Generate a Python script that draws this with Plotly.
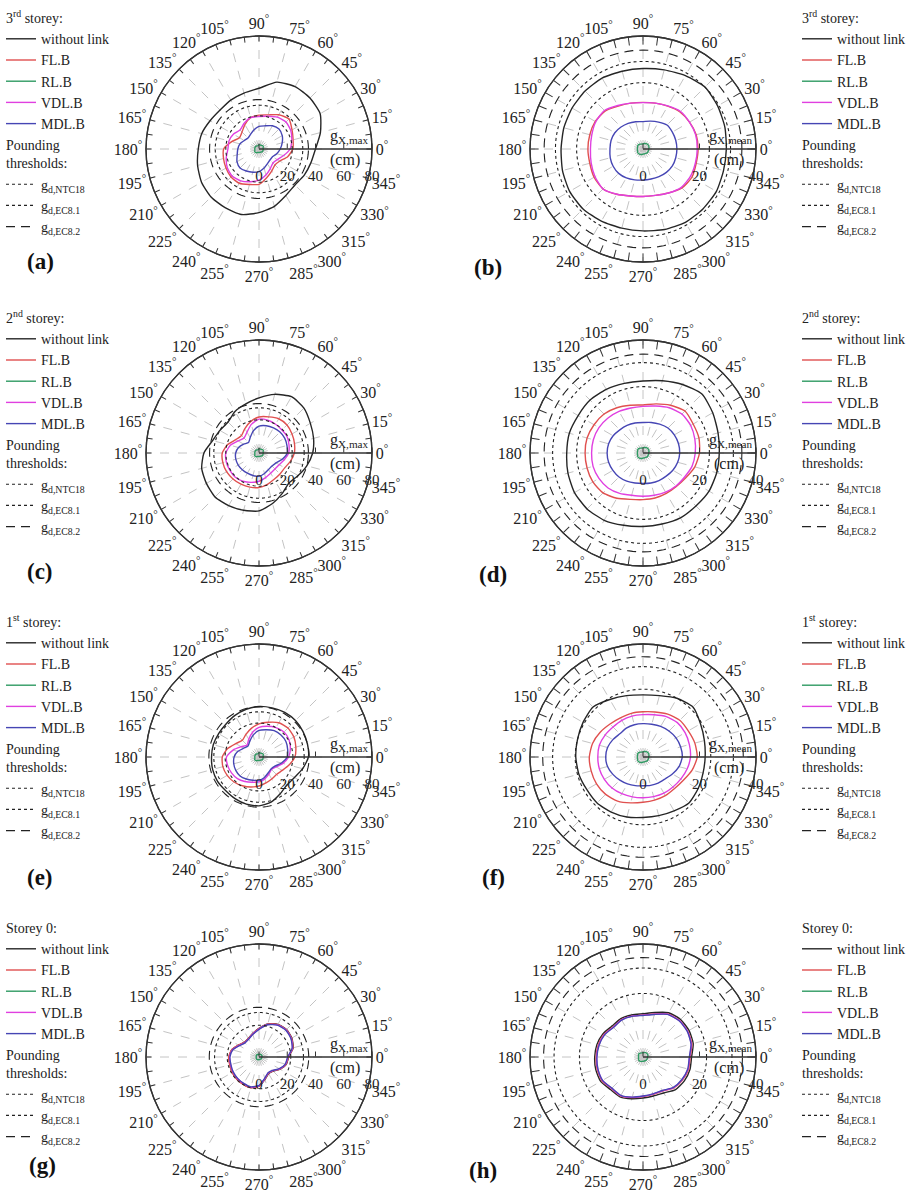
import plotly.graph_objects as go

W, H = 918, 1201

# ---------------- data ----------------
ANGLES = list(range(0, 360, 15))
ANGLE_LABELS = [f"{a}<sup>°</sup>" for a in ANGLES]
SERIES = ["without link", "FL.B", "RL.B", "VDL.B", "MDL.B"]
THRESH_NAMES = ["g<sub>d,NTC18</sub>", "g<sub>d,EC8.1</sub>", "g<sub>d,EC8.2</sub>"]
STOREY_TITLES = ["3<sup>rd</sup> storey:", "2<sup>nd</sup> storey:", "1<sup>st</sup> storey:", "Storey 0:"]
PANEL_LABELS = ["(a)", "(b)", "(c)", "(d)", "(e)", "(f)", "(g)", "(h)"]
RADIAL_TITLES = ["g<sub>X,max</sub>", "g<sub>X,mean</sub>"]
RMAX = [80, 40]
RTICKS = [[0, 20, 40, 60, 80], [0, 20, 40]]

# thresholds per storey (3rd, 2nd, 1st, 0)
NTC18 = [31, 32, 32, 31.5]
EC81 = [23.5, 23.5, 24, 22.5]
EC82 = [35, 35, 35.5, 35.2]

# (a) 3rd storey, max
A_WITHOUT = [40, 45, 50, 51, 51, 49, 43, 41, 40, 39, 40, 42, 43, 45, 47, 48, 48, 48, 45, 42, 38, 36, 37, 38]
A_FL = [24, 25, 27, 30, 28, 25, 24, 23, 20, 17, 16, 20, 25, 26, 27, 28, 28, 26, 25, 21, 18, 16, 17, 21]
A_RL = [3, 3, 3.5, 3.5, 3, 3, 3, 2.5, 2.5, 3, 3, 3, 3, 3, 3.5, 3.5, 3, 2.5, 2.5, 2.5, 2.5, 3, 3, 3]
A_VDL = [22, 24, 26, 27, 26, 24, 23, 23, 21, 19, 21, 22, 22, 24, 26, 27, 26, 24, 22, 19, 16, 14, 15, 18]
A_MDL = [15, 17, 19, 20, 19, 17, 16, 14, 12, 11, 12, 14, 15, 16, 18, 19, 18, 17, 16, 14, 12, 11, 11, 13]
# (b) 3rd storey, mean
B_WITHOUT = [29.5, 30, 30.5, 31, 30, 29, 28.5, 28.5, 29, 29, 29, 29, 29, 29.5, 30, 30, 29.5, 29, 29, 29.5, 30, 30, 30, 29.5]
B_FL = [19.5, 19.5, 19, 18.5, 17.5, 16.8, 16.5, 16.8, 17.5, 19, 19.5, 19.5, 19.5, 19.5, 20, 20, 18.5, 17.2, 16.8, 17, 18, 19.5, 20, 19.5]
B_RL = [2, 2.2, 2.3, 2.3, 2.2, 2, 1.8, 1.8, 2, 2.2, 2.2, 2, 2, 2, 2.2, 2.3, 2.2, 2, 1.8, 1.8, 1.8, 2, 2, 2]
B_VDL = [19.2, 19.3, 19, 18.8, 17.6, 16.8, 16.4, 16.8, 17.8, 19.3, 19.3, 18.8, 18.6, 19, 19.6, 20, 18.5, 17.2, 16.8, 17, 18, 19.2, 19.4, 19.2]
B_MDL = [12, 12, 12, 12, 11, 10.2, 9.7, 10, 10.5, 11, 11.5, 11.7, 11.7, 12, 12.2, 12.2, 11.8, 11.3, 11, 11, 11.3, 11.7, 12, 12]
# (c) 2nd storey, max
C_WITHOUT = [38, 40, 42, 45, 46, 43, 39, 36, 34, 31, 32, 34, 39, 42, 43, 44, 43, 42, 41, 37, 33, 30, 32, 35]
C_FL = [25, 26, 27, 28, 28, 26.5, 25.5, 23, 20, 17.5, 19, 23, 26, 26.5, 26.5, 26, 25.5, 25, 24.5, 23, 21.5, 21, 21, 23]
C_RL = [3, 3, 3.5, 3.5, 3, 3, 3, 2.5, 2.5, 3, 3, 3, 3, 3, 3.5, 3.5, 3, 2.5, 2.5, 2.5, 2.5, 3, 3, 3]
C_VDL = [21, 22, 23, 23, 23.5, 24, 24, 21, 17, 15, 17, 21, 23.5, 24, 24, 24, 23, 21.5, 20, 18, 16.5, 16, 16.5, 18.5]
C_MDL = [20, 20.5, 21, 21, 20.5, 20, 19, 16, 12.5, 10.5, 12.5, 15, 16.5, 17, 17, 16.7, 16.5, 16.5, 16.5, 15, 13.5, 13, 14, 17]
# (d) 2nd storey, mean
D_WITHOUT = [27, 27.5, 28.5, 29.5, 28, 26.5, 25.5, 25.5, 26, 26.5, 26.5, 27, 27, 27.5, 28, 28, 27.5, 26.5, 26, 26, 26.5, 26.5, 27, 27]
D_FL = [20, 20.5, 20.5, 21, 19.5, 18, 17, 17.5, 18.5, 19.5, 20, 20.5, 20.5, 20.5, 20.5, 20, 18.5, 17, 16.5, 16.5, 16.5, 16.7, 17.5, 19]
D_RL = [2, 2.2, 2.3, 2.3, 2.2, 2, 1.8, 1.8, 2, 2.2, 2.2, 2, 2, 2, 2.2, 2.3, 2.2, 2, 1.8, 1.8, 1.8, 2, 2, 2]
D_VDL = [18.5, 19, 19.5, 19.5, 18.5, 17.2, 16.5, 16.5, 17, 17.5, 18, 18.2, 18.2, 18.3, 18, 17.5, 16.5, 15.5, 15.3, 15.5, 16, 16.5, 17, 18]
D_MDL = [13, 13, 12.8, 12.5, 11.8, 11.2, 10.8, 11, 11.3, 11.6, 12.2, 12.6, 12.7, 12.6, 12.3, 12, 11.5, 11, 10.8, 11, 11.3, 11.6, 12.2, 12.7]
# (e) 1st storey, max
E_WITHOUT = [35, 35.5, 36, 36.5, 36.5, 36, 35.8, 35, 34, 33, 33, 33.5, 33.6, 34, 34, 33.5, 34, 34.5, 34.6, 33, 30, 28, 29, 32]
E_FL = [25.4, 27, 28.5, 29, 28, 25.5, 23.5, 21, 18.5, 16.7, 19, 23, 26, 26.5, 26, 25, 23.5, 22, 20.5, 19, 18, 17.5, 19, 22]
E_RL = [3, 3, 3.5, 3.5, 3, 3, 3, 2.5, 2.5, 3, 3, 3, 3, 3, 3.5, 3.5, 3, 2.5, 2.5, 2.5, 2.5, 3, 3, 3]
E_VDL = [21, 23, 24.5, 25, 24, 22.5, 21, 18, 14.5, 12, 14.5, 19, 23, 23, 22.5, 21.6, 20, 18.5, 17.6, 16, 14, 12.5, 14, 17.5]
E_MDL = [20, 21, 22, 22, 21.5, 20, 18.8, 16, 13, 11, 12.5, 15.5, 17.6, 18.5, 19, 19, 18, 17, 16.5, 15, 13, 12, 13, 16.5]
# (f) 1st storey, mean
F_WITHOUT = [22, 22.5, 23.5, 25, 24, 22.5, 22, 22.5, 23.5, 25, 24.5, 24, 23.8, 23.5, 23, 23, 22.5, 22, 21.4, 21.5, 22, 23, 22.5, 22]
F_FL = [19.2, 19, 18.5, 18.4, 17.5, 16.5, 16, 16, 16, 16.5, 17.5, 18.5, 19, 19, 19, 18.7, 18, 16.8, 16, 15.8, 15.8, 15.8, 16.5, 18]
F_RL = [2, 2.2, 2.3, 2.3, 2.2, 2, 1.8, 1.8, 2, 2.2, 2.2, 2, 2, 2, 2.2, 2.3, 2.2, 2, 1.8, 1.8, 1.8, 2, 2, 2]
F_VDL = [16.8, 17, 17.2, 17.2, 16.5, 15.5, 15, 15, 15, 15, 15.5, 16, 16, 16, 15.8, 15.5, 15, 14.6, 14.4, 14.5, 14.8, 15, 15.5, 16.2]
F_MDL = [13.9, 13.8, 13.5, 13, 12.5, 12, 11.8, 11.8, 11.8, 11.6, 12.3, 13, 13.2, 13, 12.3, 11.6, 11, 10.5, 10.2, 10.4, 10.7, 11, 12, 13.2]
# (g) storey 0, max
G_WITHOUT = [21, 25, 26.8, 27.5, 26.6, 24.3, 20.3, 17.2, 15.2, 14.7, 16.7, 19.9, 21.2, 21.2, 21.7, 22, 22.2, 22.4, 20.7, 16.3, 13.6, 14.2, 17.3, 20]
G_FL = [20.8, 24.8, 26.6, 27.4, 26.5, 24.1, 20.1, 17.1, 15.1, 14.7, 16.8, 20, 21.5, 21.5, 22, 22.3, 22.4, 22.5, 20.6, 16.1, 13.4, 13.9, 17.1, 19.8]
G_RL = [2, 2.2, 2.3, 2.3, 2.2, 2, 1.8, 1.8, 2, 2.2, 2.2, 2, 2, 2, 2.2, 2.3, 2.2, 2, 1.8, 1.8, 1.8, 2, 2, 2]
G_VDL = [20.5, 24.5, 26.3, 27.1, 26.2, 23.8, 19.8, 16.8, 14.8, 14.3, 16.3, 19.5, 20.8, 20.8, 21.3, 21.6, 21.8, 22.1, 20.3, 15.8, 13.1, 13.6, 16.8, 19.5]
G_MDL = [20.3, 24.3, 26.1, 26.9, 26, 23.6, 19.6, 16.6, 14.6, 14.1, 16.1, 19.3, 20.6, 20.6, 21.1, 21.4, 21.6, 21.9, 20.1, 15.6, 12.9, 13.4, 16.6, 19.3]
# (h) storey 0, mean
H_WITHOUT = [17.2, 18.4, 18.8, 18.8, 18.1, 16.3, 15.3, 15.4, 15.7, 15.5, 16.4, 16.9, 17.1, 17.3, 17.3, 16.3, 16.3, 15.3, 14.5, 14.3, 14.7, 16.3, 16.9, 17.2]
H_FL = [16.7, 17.9, 18.3, 18.3, 17.6, 15.8, 14.8, 15, 15.3, 15, 16, 16.4, 16.6, 16.8, 16.8, 15.8, 15.9, 14.9, 14, 13.7, 13.9, 15.5, 16.2, 16.7]
H_RL = [1.6, 1.8, 1.9, 1.9, 1.8, 1.6, 1.5, 1.5, 1.6, 1.8, 1.8, 1.6, 1.6, 1.6, 1.8, 1.9, 1.8, 1.6, 1.5, 1.5, 1.5, 1.6, 1.6, 1.6]
H_VDL = [16.5, 17.7, 18.2, 18.2, 17.5, 15.7, 14.8, 15, 15.2, 14.9, 15.8, 16.2, 16.4, 16.6, 16.6, 15.7, 15.8, 14.8, 13.9, 13.6, 13.8, 15.3, 16, 16.5]
H_MDL = [16.4, 17.6, 18.1, 18.1, 17.4, 15.6, 14.7, 14.9, 15.1, 14.8, 15.7, 16.1, 16.3, 16.5, 16.5, 15.6, 15.7, 14.7, 13.8, 13.5, 13.7, 15.2, 15.9, 16.4]

PANELS = [
    [A_WITHOUT, A_FL, A_RL, A_VDL, A_MDL],
    [B_WITHOUT, B_FL, B_RL, B_VDL, B_MDL],
    [C_WITHOUT, C_FL, C_RL, C_VDL, C_MDL],
    [D_WITHOUT, D_FL, D_RL, D_VDL, D_MDL],
    [E_WITHOUT, E_FL, E_RL, E_VDL, E_MDL],
    [F_WITHOUT, F_FL, F_RL, F_VDL, F_MDL],
    [G_WITHOUT, G_FL, G_RL, G_VDL, G_MDL],
    [H_WITHOUT, H_FL, H_RL, H_VDL, H_MDL],
]

# ---------------- style / layout ----------------
COLORS = ["#262626", "#e0504f", "#2f9a62", "#e040e0", "#4646b4"]
TH_DASH = ["dot", "3px,3px", "9px,6px"]
FONT = "Liberation Serif, Times New Roman, serif"
CX = [259, 643]
CY = [149, 453, 757, 1057]
R = 113
LEG_X = [1, 797]
LEG_TOP = [2, 302, 606, 912]
LABEL_POS = [(40, 262), (488, 268), (40, 571), (493, 574), (40, 877), (493, 877), (42, 1165), (483, 1170)]
CIRCLE_THETA = list(range(0, 361, 3))

fig = go.Figure()
layout = {}
annotations = []

for k in range(8):
    row, col = k // 2, k % 2
    cx, cy = CX[col], CY[row]
    dom = dict(x=[(cx - R) / W, (cx + R) / W], y=[1 - (cy + R) / H, 1 - (cy - R) / H])
    pid = "polar" if k == 0 else f"polar{k + 1}"
    oid = f"polar{k + 9}"
    lid = "legend" if k == 0 else f"legend{k + 1}"
    rmax = RMAX[col]

    for s, (name, vals) in enumerate(zip(SERIES, PANELS[k])):
        fig.add_trace(go.Scatterpolar(
            r=vals + vals[:1], theta=ANGLES + ANGLES[:1], mode="lines", name=name,
            line=dict(color=COLORS[s], width=1.4, shape="spline", smoothing=0.6),
            subplot=pid, legend=lid, legendgroup=f"s{k}",
            legendgrouptitle=dict(text=STOREY_TITLES[row], font=dict(family=FONT, size=14, color="#222")),
        ))
    for t, (tname, tval) in enumerate(zip(THRESH_NAMES, [NTC18[row], EC81[row], EC82[row]])):
        fig.add_trace(go.Scatterpolar(
            r=[tval] * len(CIRCLE_THETA), theta=CIRCLE_THETA, mode="lines", name=tname,
            line=dict(color="#222", width=1.1, dash=TH_DASH[t]),
            subplot=pid, legend=lid, legendgroup=f"t{k}",
            legendgrouptitle=dict(text="Pounding<br>thresholds:", font=dict(family=FONT, size=14, color="#222")),
        ))
    # empty trace for the tick overlay subplot
    fig.add_trace(go.Scatterpolar(r=[], theta=[], subplot=oid, showlegend=False, hoverinfo="skip"))

    layout[pid] = dict(
        domain=dom, bgcolor="rgba(0,0,0,0)",
        angularaxis=dict(rotation=0, direction="counterclockwise", tickmode="array",
                         tickvals=ANGLES, ticktext=ANGLE_LABELS, ticks="",
                         showline=True, linecolor="#333", linewidth=1.3,
                         showgrid=True, gridcolor="#c4c4c4", griddash="dash", gridwidth=1,
                         tickfont=dict(family=FONT, size=16, color="#222")),
        radialaxis=dict(range=[0, rmax], angle=0, tickangle=0, side="clockwise",
                        tickmode="array", tickvals=RTICKS[col], showgrid=False,
                        showline=True, linecolor="#333", linewidth=1.3,
                        ticks="outside", ticklen=13, tickcolor="rgba(0,0,0,0)",
                        tickfont=dict(family=FONT, size=15, color="#222")),
    )
    layout[oid] = dict(
        domain=dom, bgcolor="rgba(0,0,0,0)",
        angularaxis=dict(rotation=0, direction="counterclockwise", tickmode="array",
                         tickvals=[i * 7.5 for i in range(48)], ticktext=[""] * 48,
                         ticks="inside", ticklen=5 if col == 0 else 8, tickcolor="#333",
                         tickwidth=1.2, showline=True, linecolor="#333", linewidth=1.3,
                         showgrid=False),
        radialaxis=dict(range=[0, rmax], angle=0, side="counterclockwise", tickmode="array",
                        tickvals=RTICKS[col], ticks="outside", ticklen=5, tickcolor="#333",
                        showticklabels=False, showline=False, showgrid=False),
    )
    layout[lid] = dict(
        x=LEG_X[col] / W, y=1 - LEG_TOP[row] / H, xanchor="left", yanchor="top",
        bgcolor="rgba(0,0,0,0)", font=dict(family=FONT, size=14, color="#222"),
        tracegroupgap=0, itemwidth=30, traceorder="grouped",
    )
    # radial axis title
    annotations.append(dict(x=(cx + R - 1) / W, y=1 - (cy - 1) / H, xref="paper", yref="paper",
                            text=RADIAL_TITLES[col], showarrow=False, xanchor="right", yanchor="bottom",
                            font=dict(family=FONT, size=16, color="#222")))
    annotations.append(dict(x=(cx + 0.76 * R) / W, y=1 - (cy + 11) / H, xref="paper", yref="paper",
                            text="(cm)", showarrow=False, xanchor="center", yanchor="middle",
                            font=dict(family=FONT, size=16, color="#222")))
    lx, ly = LABEL_POS[k]
    annotations.append(dict(x=lx / W, y=1 - ly / H, xref="paper", yref="paper",
                            text=f"<b>{PANEL_LABELS[k]}</b>", showarrow=False,
                            xanchor="center", yanchor="middle",
                            font=dict(family=FONT, size=23, color="#111")))

fig.update_layout(
    width=W, height=H, margin=dict(l=0, r=0, t=0, b=0),
    paper_bgcolor="white", plot_bgcolor="white",
    font=dict(family=FONT, color="#222"),
    annotations=annotations, **layout,
)

fig.write_html("out.html", config={"displayModeBar": False},
               post_script="document.body.style.margin='0';")
